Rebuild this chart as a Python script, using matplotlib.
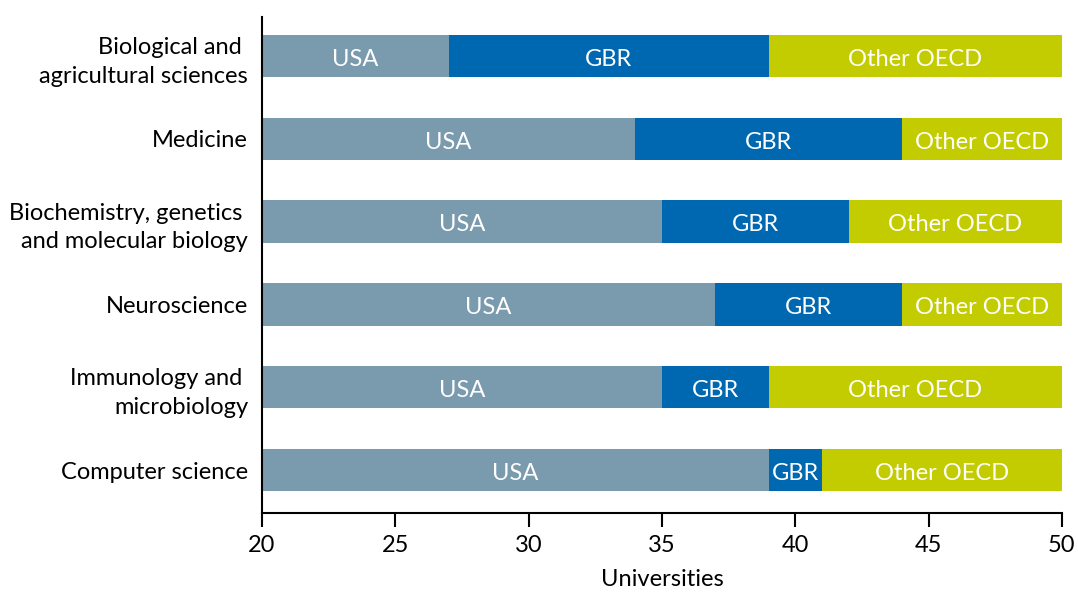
import matplotlib
matplotlib.use("Agg")
import matplotlib.pyplot as plt
import numpy as np

plt.rcParams['font.family'] = ['Lato', 'DejaVu Sans']

# categories, top to bottom
fields = ["Biological and \nagricultural sciences", "Medicine",
          "Biochemistry, genetics \nand molecular biology", "Neuroscience",
          "Immunology and \nmicrobiology", "Computer science"]
usa = [27, 34, 35, 37, 35, 39]      # cumulative end of USA segment
gbr = [12, 10, 7, 7, 4, 2]
other = [11, 6, 8, 6, 11, 9]
series = ["USA", "GBR", "Other OECD"]
colors = ["#7a9aae", "#0068b0", "#c3cc00"]
start = 20
fs = 17

fig = plt.figure(figsize=(10.78, 5.92), dpi=100)
ax = fig.add_axes([0.243, 0.1334, 0.742, 0.838])

y = np.arange(len(fields))
left = np.full(len(fields), start, dtype=float)
widths = [np.array(usa) - start, np.array(gbr), np.array(other)]
for name, w, c in zip(series, widths, colors):
    ax.barh(y, w, left=left, height=0.51, color=c)
    for yi, l, wi in zip(y, left, w):
        ax.text(l + wi / 2, yi + 0.04, name, ha='center', va='center',
                color='white', fontsize=fs)
    left = left + w

ax.set_xlim(20, 50)
ax.set_ylim(5.518, -0.47)
ax.set_xticks(range(20, 51, 5))
ax.set_yticks(y)
ax.set_yticklabels(fields, fontsize=fs, linespacing=1.45)
ax.tick_params(axis='y', length=0, pad=10)
ax.tick_params(axis='x', length=10, width=1.5, labelsize=fs, pad=6)
ax.set_xlabel("Universities", fontsize=fs, labelpad=9)
for s in ['top', 'right']:
    ax.spines[s].set_visible(False)
for s in ['left', 'bottom']:
    ax.spines[s].set_linewidth(1.5)

fig.savefig("out.png", dpi=100)
